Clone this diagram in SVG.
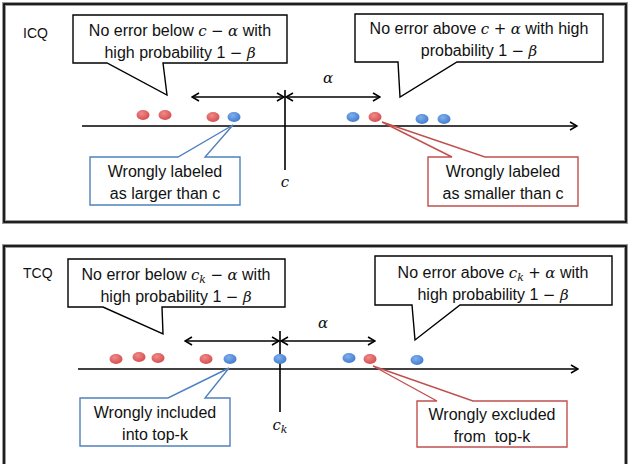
<svg xmlns="http://www.w3.org/2000/svg" width="633" height="464" viewBox="0 0 633 464">
<defs>
<marker id="ah" viewBox="0 0 10 10" refX="9" refY="5" markerWidth="10" markerHeight="10" markerUnits="userSpaceOnUse" orient="auto-start-reverse">
<polyline points="2,1 9,5 2,9" fill="none" stroke="#000" stroke-width="1.6"/>
</marker>
<radialGradient id="gr" cx="0.4" cy="0.35" r="0.7">
<stop offset="0" stop-color="#f08a8a"/><stop offset="1" stop-color="#d44a4a"/>
</radialGradient>
<radialGradient id="gb" cx="0.4" cy="0.35" r="0.7">
<stop offset="0" stop-color="#7fb0ee"/><stop offset="1" stop-color="#3f78cc"/>
</radialGradient>
</defs>
<style>
.frame-sh{fill:none;stroke:#999;stroke-width:4}
.frame{fill:none;stroke:#000;stroke-width:1.6}
.call{fill:#fff;stroke:#000;stroke-width:1.4}
.callb{fill:#fff;stroke:#4f81bd;stroke-width:1.4}
.callr{fill:#fff;stroke:#c0504d;stroke-width:1.4}
text{font-family:"Liberation Sans",Arial,sans-serif;font-size:16px;fill:#111;white-space:pre}
.lab{font-size:14px}
.m{font-family:"DejaVu Serif","Liberation Serif",serif;font-style:italic;font-size:15px}
.mo{font-family:"DejaVu Sans","Liberation Sans",sans-serif;font-size:15px}
.ax{stroke:#000;stroke-width:1.6;fill:none}
.dr{fill:url(#gr)}
.db{fill:url(#gb)}
</style>

<g id="panel-icq">
<rect class="frame-sh" x="4" y="4" width="622" height="218"/>
<rect class="frame" x="4" y="4" width="622" height="218"/>
<text class="lab" x="23" y="38">ICQ</text>
</g>
<g id="panel-tcq">
<rect class="frame-sh" x="4" y="246" width="622" height="230"/>
<rect class="frame" x="4" y="246" width="622" height="230"/>
<text class="lab" x="23" y="278">TCQ</text>
</g>

<g id="connectors">
<line class="ax" x1="82" y1="126" x2="577" y2="126" marker-end="url(#ah)"/>
<line class="ax" x1="285" y1="90" x2="285" y2="170"/>
<line class="ax" x1="192" y1="97" x2="284" y2="97" marker-start="url(#ah)" marker-end="url(#ah)"/>
<line class="ax" x1="286" y1="97" x2="380" y2="97" marker-start="url(#ah)" marker-end="url(#ah)"/>
<line class="ax" x1="78" y1="369" x2="578" y2="369" marker-end="url(#ah)"/>
<line class="ax" x1="280" y1="331" x2="280" y2="412"/>
<line class="ax" x1="185" y1="341" x2="279" y2="341" marker-start="url(#ah)" marker-end="url(#ah)"/>
<line class="ax" x1="281" y1="341" x2="375" y2="341" marker-start="url(#ah)" marker-end="url(#ah)"/>
</g>

<g id="labels-axis">
<text class="m" x="285" y="187" text-anchor="middle">c</text>
<text class="m" x="328" y="83" text-anchor="middle">α</text>
<text class="m" x="280" y="430" text-anchor="middle">c<tspan font-size="11" dy="3">k</tspan></text>
<text class="m" x="323" y="328" text-anchor="middle">α</text>
</g>

<g id="dots-icq">
<ellipse class="dr" cx="143" cy="115" rx="6.5" ry="5"/>
<ellipse class="dr" cx="165" cy="115" rx="6.5" ry="5"/>
<ellipse class="dr" cx="213" cy="117" rx="6.5" ry="5"/>
<ellipse class="db" cx="234" cy="117" rx="6.5" ry="5"/>
<ellipse class="db" cx="353" cy="117" rx="6.5" ry="5"/>
<ellipse class="dr" cx="375" cy="117" rx="6.5" ry="5"/>
<ellipse class="db" cx="422" cy="119" rx="6.5" ry="5"/>
<ellipse class="db" cx="444" cy="119" rx="6.5" ry="5"/>
</g>
<g id="dots-tcq">
<ellipse class="dr" cx="116" cy="359" rx="6.5" ry="5"/>
<ellipse class="dr" cx="139" cy="357" rx="6.5" ry="5"/>
<ellipse class="dr" cx="158" cy="358" rx="6.5" ry="5"/>
<ellipse class="dr" cx="206" cy="359" rx="6.5" ry="5"/>
<ellipse class="db" cx="230" cy="359" rx="6.5" ry="5"/>
<ellipse class="db" cx="280" cy="359" rx="6.5" ry="5"/>
<ellipse class="db" cx="349" cy="358" rx="6.5" ry="5"/>
<ellipse class="dr" cx="370" cy="359" rx="6.5" ry="5"/>
<ellipse class="db" cx="417" cy="360" rx="6.5" ry="5"/>
</g>

<g id="callout-icq-below">
<path class="call" d="M73,15 H287 V63 H163 L167,95 L107,63 H73 Z"/>
<text x="180" y="36" text-anchor="middle">No error below <tspan class="m">c</tspan> <tspan class="mo">−</tspan> <tspan class="m">α</tspan> with</text>
<text x="180" y="58" text-anchor="middle">high probability 1 <tspan class="mo">−</tspan> <tspan class="m">β</tspan></text>
</g>
<g id="callout-icq-above">
<path class="call" d="M355,14 H603 V62 H457 L400,97 L398,62 H355 Z"/>
<text x="479" y="34" text-anchor="middle">No error above <tspan class="m">c</tspan> <tspan class="mo">+</tspan> <tspan class="m">α</tspan> with high</text>
<text x="479" y="56" text-anchor="middle">probability 1 <tspan class="mo">−</tspan> <tspan class="m">β</tspan></text>
</g>
<g id="callout-icq-larger">
<path class="callb" d="M90,157 H178 L233,125 L205,157 H240 V205 H90 Z"/>
<text x="165" y="177" text-anchor="middle">Wrongly labeled</text>
<text x="165" y="199" text-anchor="middle">as larger than c</text>
</g>
<g id="callout-icq-smaller">
<path class="callr" d="M428,157 H452 L382,122 L485,157 H578 V206 H428 Z"/>
<text x="503" y="177" text-anchor="middle">Wrongly labeled</text>
<text x="503" y="199" text-anchor="middle">as smaller than c</text>
</g>

<g id="callout-tcq-below">
<path class="call" d="M68,259 H285 V307 H162 L163,334 L103,307 H68 Z"/>
<text x="176" y="280" text-anchor="middle">No error below <tspan class="m">c<tspan font-size="11" dy="3">k</tspan></tspan><tspan dy="-3"> </tspan><tspan class="mo">−</tspan> <tspan class="m">α</tspan> with</text>
<text x="176" y="302" text-anchor="middle">high probability 1 <tspan class="mo">−</tspan> <tspan class="m">β</tspan></text>
</g>
<g id="callout-tcq-above">
<path class="call" d="M375,256 H612 V305 H460 L415,340 L412,305 H375 Z"/>
<text x="493" y="278" text-anchor="middle">No error above <tspan class="m">c<tspan font-size="11" dy="3">k</tspan></tspan><tspan dy="-3"> </tspan><tspan class="mo">+</tspan> <tspan class="m">α</tspan> with</text>
<text x="493" y="300" text-anchor="middle">high probability 1 <tspan class="mo">−</tspan> <tspan class="m">β</tspan></text>
</g>
<g id="callout-tcq-included">
<path class="callb" d="M80,398 H168 L229,368 L205,398 H230 V446 H80 Z"/>
<text x="155" y="418" text-anchor="middle">Wrongly included</text>
<text x="155" y="440" text-anchor="middle">into top-k</text>
</g>
<g id="callout-tcq-excluded">
<path class="callr" d="M417,401 H437 L373,366 L473,401 H567 V447 H417 Z"/>
<text x="492" y="420" text-anchor="middle">Wrongly excluded</text>
<text x="492" y="442" text-anchor="middle">from  top-k</text>
</g>
</svg>
